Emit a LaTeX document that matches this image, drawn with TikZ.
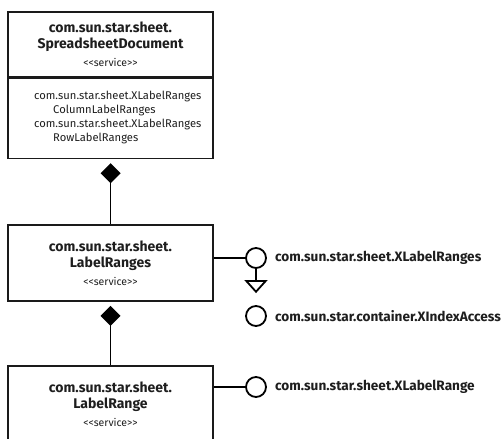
\documentclass[tikz,border=0pt]{standalone}
\usepackage{fontspec}
\setmainfont{Fira Sans}
\usetikzlibrary{arrows.meta,positioning}
\definecolor{umlline}{HTML}{1A1A1A}
\definecolor{umltext}{HTML}{1E1E1E}
\newcommand{\svcname}{\fontsize{14}{16}\selectfont\bfseries}
\newcommand{\stereo}[1]{\\[2pt]{\normalfont\fontsize{10.5}{11}\selectfont {<}{<}#1{>}{>}}}
\tikzset{
  svcbox/.style={draw=umlline, line width=1.5pt, fill=white, align=center,
    minimum width=205pt, inner sep=0pt, font=\svcname, text=umltext},
  attrtext/.style={anchor=west, align=left, inner sep=0pt, text=umltext,
    font=\fontsize{11.2}{14}\selectfont},
  conn/.style={draw=black, line width=1.9pt},
  compos/.style={conn, -{Diamond[width=20pt, length=20pt]}, shorten >=4pt},
  realize/.style={conn, -{Triangle[open, width=23pt, length=13pt, line width=1.8pt]}, shorten >=12pt},
  iface/.style={circle, draw=black, line width=1.8pt, minimum size=20pt, inner sep=0pt},
  ifname/.style={anchor=west, inner sep=0pt, text=umltext, font=\fontsize{13.6}{16}\selectfont\bfseries},
}
\begin{document}
\begin{tikzpicture}[x=1pt, y=-1pt]
\useasboundingbox[fill=white] (0,0) rectangle (502,438);

% services
\node[svcbox, minimum height=65pt] (sdoc) at (110.5, 44.5)
  {com.sun.star.sheet.\\SpreadsheetDocument\stereo{service}};
\node[svcbox, minimum height=80pt, below=0pt of sdoc] (sdocattr) {};
\node[attrtext] (sdocattrtext) at (34, 117.5)
  {com.sun.star.sheet.XLabelRanges\\\hspace*{19pt}ColumnLabelRanges\\
   com.sun.star.sheet.XLabelRanges\\\hspace*{19pt}RowLabelRanges};

\node[svcbox, minimum height=76pt] (lranges) at (110.5, 263)
  {com.sun.star.sheet.\\LabelRanges\stereo{service}};
\node[svcbox, minimum height=76pt] (lrange) at (110.5, 404)
  {com.sun.star.sheet.\\LabelRange\stereo{service}};

% interfaces
\node[iface] (xranges) at (256, 258) {};
\node[ifname, right=8pt of xranges] (xrangesname) {com.sun.star.sheet.XLabelRanges};
\node[iface] (xindex) at (256, 316) {};
\node[ifname, right=8pt of xindex] (xindexname) {com.sun.star.container.XIndexAccess};
\node[iface] (xrange) at (256, 387) {};
\node[ifname, right=8pt of xrange] (xrangename) {com.sun.star.sheet.XLabelRange};

% connectors
\draw[compos] (lranges.north) -- (sdocattr.south);
\draw[compos] (lrange.north) -- (lranges.south);
\draw[conn] (xranges.west) -- (xranges.west -| lranges.east);
\draw[realize] (xranges.south) -- (xindex.north);
\draw[conn] (xrange.west) -- (xrange.west -| lrange.east);

\end{tikzpicture}
\end{document}
